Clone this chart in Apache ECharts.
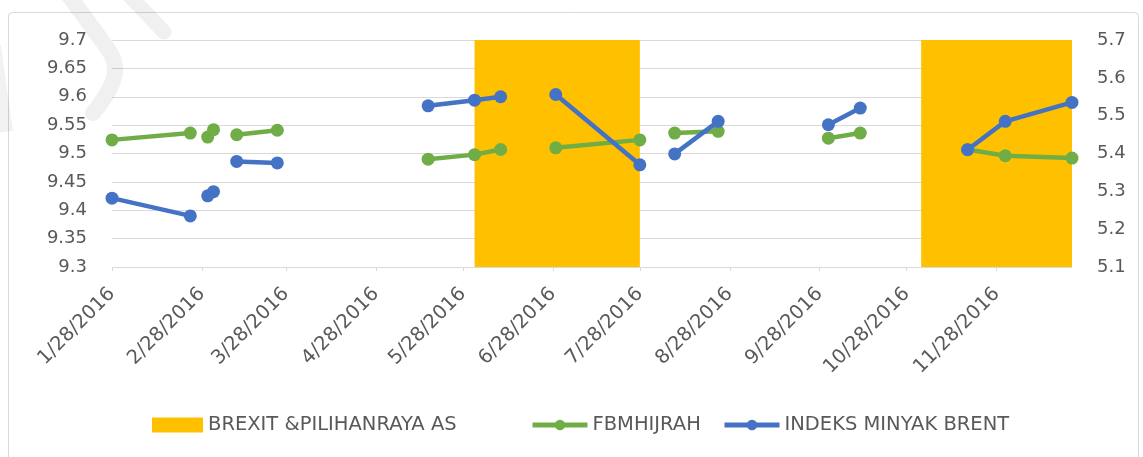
<!DOCTYPE html>
<html>
<head>
<meta charset="utf-8">
<script src="https://cdn.jsdelivr.net/npm/echarts@6/dist/echarts.min.js"></script>
<style>
  html, body { margin: 0; padding: 0; background: #ffffff; }
  #chart { width: 1143px; height: 457px; }
</style>
</head>
<body>
<div id="chart"></div>
<script>
// Month ticks along the date axis
const xTickLabels = ['1/28/2016', '2/28/2016', '3/28/2016', '4/28/2016', '5/28/2016', '6/28/2016',
                     '7/28/2016', '8/28/2016', '9/28/2016', '10/28/2016', '11/28/2016'];
const axisStart = '1/28/2016';
const axisEnd = '12/24/2016';

// Observation dates; null marks a gap between line segments
const pointDates = ['1/28/2016', '2/24/2016', null,
                    '3/1/2016', '3/3/2016', null,
                    '3/11/2016', '3/25/2016', null,
                    '5/16/2016', '6/1/2016', '6/10/2016', null,
                    '6/29/2016', '7/28/2016', null,
                    '8/9/2016', '8/24/2016', null,
                    '10/1/2016', '10/12/2016', null,
                    '11/18/2016', '12/1/2016', '12/24/2016'];

// FBMHIJRAH (left axis)
const fbmHijrah = [9.524, 9.536, null,
                   9.529, 9.542, null,
                   9.533, 9.541, null,
                   9.490, 9.498, 9.507, null,
                   9.510, 9.524, null,
                   9.536, 9.539, null,
                   9.527, 9.536, null,
                   9.507, 9.496, 9.492];

// INDEKS MINYAK BRENT (right axis)
const brentIndex = [5.282, 5.235, null,
                    5.288, 5.299, null,
                    5.379, 5.375, null,
                    5.526, 5.541, 5.550, null,
                    5.556, 5.370, null,
                    5.399, 5.485, null,
                    5.476, 5.520, null,
                    5.410, 5.485, 5.535];

// Event windows: Brexit and the US election
const eventBands = [['6/1/2016', '7/28/2016'], ['11/2/2016', '12/24/2016']];

// Axis ranges
const leftAxisRange = [9.3, 9.7, 0.05];
const rightAxisRange = [5.1, 5.7, 0.1];

const seriesNames = ['BREXIT &PILIHANRAYA AS', 'FBMHIJRAH', 'INDEKS MINYAK BRENT'];

// Dates are placed on a day-count axis starting at axisStart
const DAY = 86400000;
function parseMDY(s) {
  const p = s.split('/').map(Number);
  return Date.UTC(p[2], p[0] - 1, p[1]);
}
const t0 = parseMDY(axisStart);
function dayOf(s) { return Math.round((parseMDY(s) - t0) / DAY); }

function buildData(values) {
  return pointDates.map(function (d, i) {
    if (d === null) return [dayOf(pointDates[i - 1]) + 1, null];
    return [dayOf(d), values[i]];
  });
}
const xTickValues = xTickLabels.map(dayOf);

const FONT = 'DejaVu Sans';
const TEXT = '#595959';
const GRID_LINE = '#d9d9d9';
const GREEN = '#70AD47';
const BLUE = '#4472C4';
const GOLD = '#FFC000';

const chart = echarts.init(document.getElementById('chart'), null, { renderer: 'canvas' });

const legendText = { fontFamily: FONT, fontSize: 19.5, color: TEXT };

chart.setOption({
  backgroundColor: '#ffffff',
  animation: false,
  textStyle: { fontFamily: FONT, color: TEXT },
  graphic: [
    {
      // chart frame
      type: 'rect',
      shape: { x: 8.5, y: 12.5, width: 1130, height: 470, r: 4 },
      style: { fill: 'none', stroke: '#d9d9d9', lineWidth: 1 },
      silent: true,
      z: -10
    },
    {
      // faint corner decoration
      type: 'polyline',
      shape: { points: [[66, -8], [100, 38], [112, 56], [115, 72], [110, 88], [100, 104], [93, 113]], smooth: 0.3 },
      style: { fill: 'none', stroke: 'rgba(0,0,0,0.06)', lineWidth: 16, lineCap: 'round' },
      silent: true,
      z: 100
    },
    {
      type: 'line',
      shape: { x1: 126, y1: -8, x2: 164, y2: 32 },
      style: { stroke: 'rgba(0,0,0,0.06)', lineWidth: 15, lineCap: 'round' },
      silent: true,
      z: 100
    },
    {
      type: 'line',
      shape: { x1: -6, y1: 46, x2: 6, y2: 132 },
      style: { stroke: 'rgba(0,0,0,0.05)', lineWidth: 14 },
      silent: true,
      z: 100
    }
  ],
  grid: { left: 112, right: 71, top: 40, bottom: 190 },
  legend: [
    {
      data: [{ name: seriesNames[0], icon: 'rect' }],
      left: 152, top: 415, padding: 0,
      itemWidth: 51, itemHeight: 15, itemGap: 0,
      textStyle: legendText,
      selectedMode: false
    },
    {
      data: [seriesNames[1]],
      left: 530, top: 415, padding: 0,
      itemWidth: 55, itemHeight: 13,
      lineStyle: { width: 5 },
      textStyle: legendText,
      selectedMode: false
    },
    {
      data: [seriesNames[2]],
      left: 722, top: 415, padding: 0,
      itemWidth: 55, itemHeight: 13,
      lineStyle: { width: 5 },
      textStyle: legendText,
      selectedMode: false
    }
  ],
  xAxis: {
    type: 'value',
    min: 0,
    max: dayOf(axisEnd),
    axisLine: { show: true, lineStyle: { color: GRID_LINE, width: 1 } },
    axisTick: { show: true, customValues: xTickValues, length: 4, lineStyle: { color: GRID_LINE } },
    splitLine: { show: false },
    axisLabel: {
      customValues: xTickValues,
      rotate: 45,
      margin: 24,
      fontFamily: FONT,
      fontSize: 19.5,
      color: TEXT,
      formatter: function (v) {
        const i = xTickValues.indexOf(Math.round(v));
        return i >= 0 ? xTickLabels[i] : '';
      }
    }
  },
  yAxis: [
    {
      type: 'value',
      position: 'left',
      min: leftAxisRange[0], max: leftAxisRange[1], interval: leftAxisRange[2],
      axisLine: { show: false },
      axisTick: { show: false },
      splitLine: { show: true, lineStyle: { color: GRID_LINE, width: 1 } },
      axisLabel: { margin: 25, fontFamily: FONT, fontSize: 18, color: TEXT }
    },
    {
      type: 'value',
      position: 'right',
      min: rightAxisRange[0], max: rightAxisRange[1], interval: rightAxisRange[2],
      axisLine: { show: false },
      axisTick: { show: false },
      splitLine: { show: false },
      axisLabel: { margin: 25, fontFamily: FONT, fontSize: 18, color: TEXT }
    }
  ],
  series: [
    {
      name: seriesNames[0],
      type: 'line',
      data: [],
      yAxisIndex: 0,
      color: GOLD,
      itemStyle: { color: GOLD },
      z: 1,
      silent: true,
      markArea: {
        silent: true,
        itemStyle: { color: GOLD, opacity: 1 },
        data: eventBands.map(function (b) {
          return [{ xAxis: dayOf(b[0]) }, { xAxis: dayOf(b[1]) }];
        })
      }
    },
    {
      name: seriesNames[1],
      type: 'line',
      yAxisIndex: 0,
      data: buildData(fbmHijrah),
      connectNulls: false,
      color: GREEN,
      symbol: 'circle',
      symbolSize: 13,
      showSymbol: true,
      lineStyle: { color: GREEN, width: 4.5 },
      itemStyle: { color: GREEN },
      z: 3
    },
    {
      name: seriesNames[2],
      type: 'line',
      yAxisIndex: 1,
      data: buildData(brentIndex),
      connectNulls: false,
      color: BLUE,
      symbol: 'circle',
      symbolSize: 13,
      showSymbol: true,
      lineStyle: { color: BLUE, width: 4.5 },
      itemStyle: { color: BLUE },
      z: 4
    }
  ]
});
</script>
</body>
</html>
